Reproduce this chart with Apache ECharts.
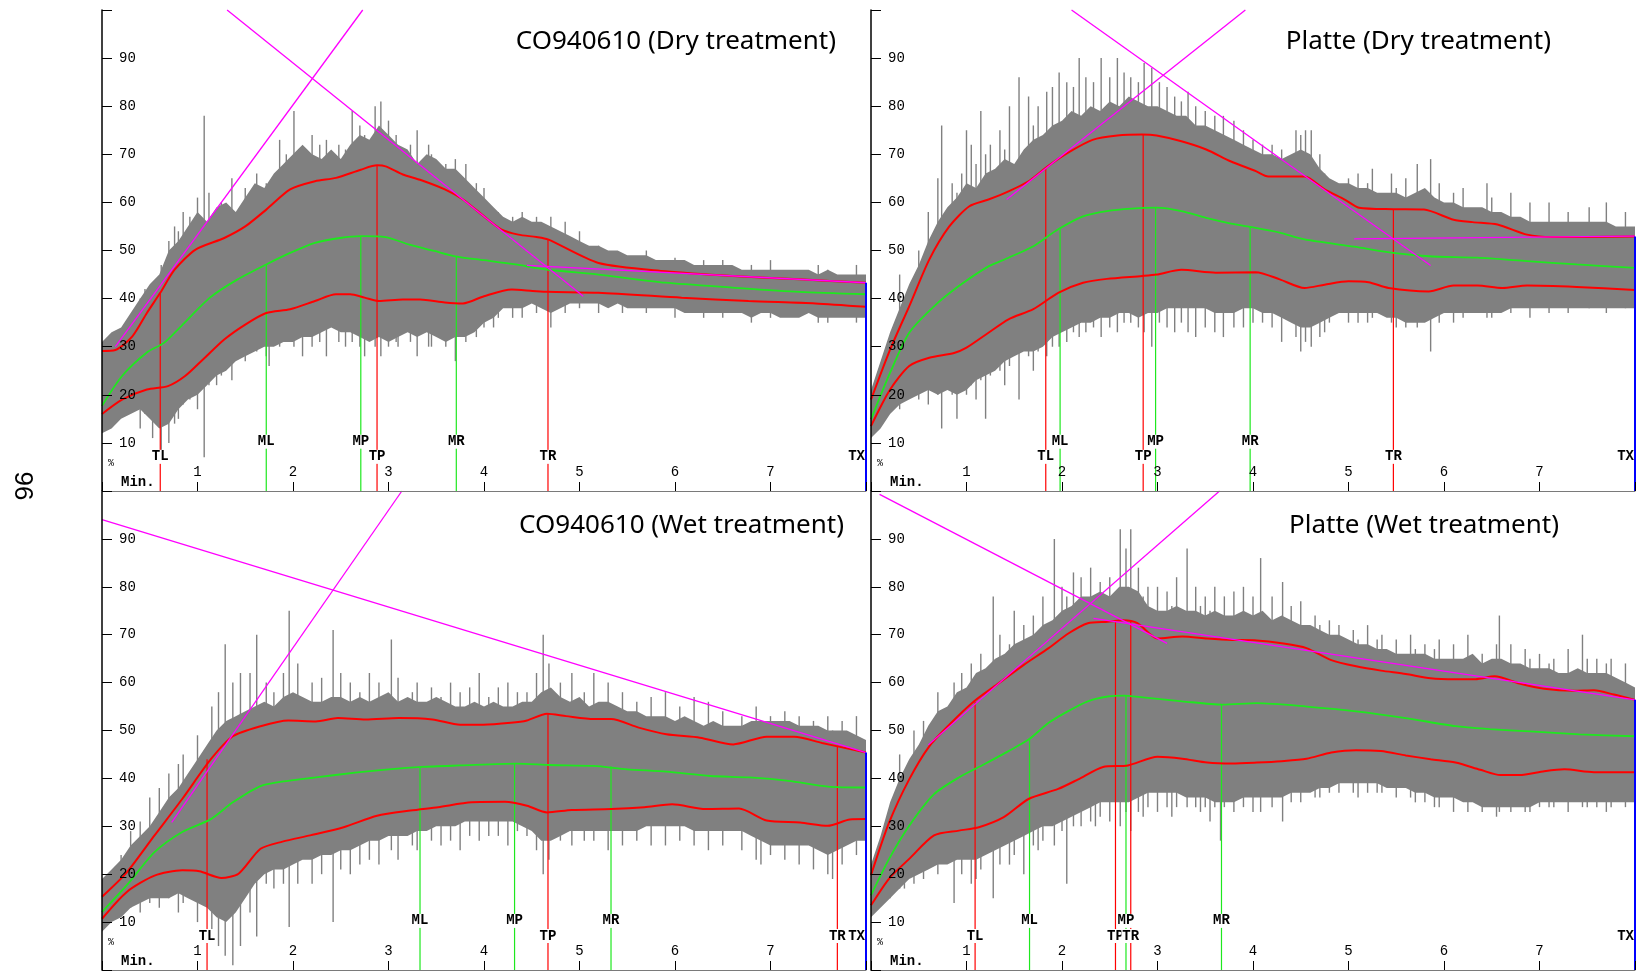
<!DOCTYPE html>
<html>
<head>
<meta charset="utf-8">
<title>Mixograph curves</title>
<script src="https://cdn.jsdelivr.net/npm/echarts@6/dist/echarts.min.js"></script>
<style>
  html, body { margin: 0; padding: 0; background: #fff; }
  #chart { width: 1638px; height: 971px; }
</style>
</head>
<body>
<div id="chart"></div>
<script>
// dense part of the signal is sampled every 0.1 min, from 0 to 8
const STEP = 0.1

// ---- CO940610 (Dry treatment) ----
const coDryHi = [31,33,34,37,40,43,45,50,52,55, 58,56,59,60,58,61,64,63,66,68, 70,72,70,69,71,69,72,74,73,76,
  74,72,71,68,70,69,67,67,65,63, 61,59,57,56,57,56,56,55,54,53, 52,51,51,50,50,49,49,49,48,48,
  48,48,47,47,47,47,47,46,46,46, 46,46,46,46,46,45,46,45,45,45, 45]
const coDryLo = [12,13,15,16,17,15,13,14,17,19, 20,22,24,25,27,28,29,30,30,31, 31,32,32,33,34,33,33,32,31,32,
  31,32,33,32,33,32,31,32,32,33, 35,36,38,38,38,39,38,37,38,39, 39,39,39,38,39,38,38,38,38,38,
  38,37,37,37,37,37,37,37,36,37, 37,36,36,36,37,36,36,36,36,36, 36]
// single excursions: [min, low tip, high tip]
const coDrySpikes = [[0.4,13,40],[0.45,16,42],[0.53,11,41],[0.62,8,47],[0.7,10,52],[0.76,14,55],[0.8,15,54],
  [0.85,18,58],[0.92,19,57],[1.0,17,61],[1.07,7,78],[1.12,22,62],[1.2,22,58],[1.25,24,60],[1.36,23,65],[1.5,27,63],
  [1.62,29,66],[1.72,28,64],[1.75,26,62],[1.86,30,73],[1.93,31,70],[2.01,30,79],[2.1,28,71],[2.2,30,74],[2.28,31,72],
  [2.35,28,73],[2.48,31,72],[2.55,30,71],[2.62,31,79],[2.7,30,76],[2.75,28,74],[2.86,30,80],[2.92,28,81],[3.0,30,77],
  [3.08,31,74],[3.1,30,70],[3.23,31,72],[3.3,28,75],[3.42,30,72],[3.45,30,70],[3.6,30,68],[3.7,27,69],[3.81,31,68],
  [3.92,32,64],[4.0,34,63],[4.1,34,58],[4.15,36,58],[4.3,36,57],[4.4,36,58],[4.55,37,57],[4.7,34,57],[4.85,37,56],
  [5.0,38,54],[5.2,37,51],[5.45,37,49],[5.7,37,50],[6.0,36,48.5],[6.3,36,48],[6.5,36,48],[6.8,35,47],[7.0,36,48],
  [7.5,35,47],[7.6,35,46],[7.9,35,47]]
const coDryUpper = [[0,29.1],[0.14,29.3],[0.32,32.2],[0.47,37],[0.61,41.2],[0.76,46],[0.98,50.2],[1.28,52.6],[1.5,55],
  [1.72,58.5],[1.97,62.7],[2.23,64.4],[2.45,65.1],[2.71,66.8],[2.88,67.7],[2.97,67.5],[3.15,65.8],[3.33,64.7],
  [3.59,62.7],[3.78,60.6],[4.0,57.1],[4.18,54.4],[4.36,53.3],[4.55,52.8],[4.67,52.3],[5.2,47.4],[5.9,45.7],
  [6.6,44.7],[7.3,44],[8,43.3]]
const coDryMid = [[0,17.7],[0.21,23.9],[0.47,28.8],[0.65,30.8],[0.83,34.3],[1.13,40.2],[1.42,44],[1.72,47.1],
  [1.97,49.5],[2.23,51.6],[2.49,52.6],[2.71,53],[2.97,52.8],[3.22,51.2],[3.48,49.9],[3.7,48.8],[4.0,48],
  [4.33,47.1],[4.67,46],[5.2,45],[5.9,43.3],[6.6,42.3],[7.3,41.4],[8,40.9]]
const coDryLower = [[0,16],[0.21,19],[0.47,21.1],[0.69,21.8],[0.87,23.9],[1.06,27.4],[1.28,31.5],[1.5,34.6],
  [1.72,37],[1.97,37.8],[2.23,39.5],[2.45,40.9],[2.6,40.9],[2.75,40.2],[2.9,39.5],[3.15,39.8],[3.33,39.8],
  [3.59,39.2],[3.78,39],[4.0,40.5],[4.29,41.9],[4.51,41.6],[4.67,41.4],[5.2,41.2],[6.07,40.2],[6.77,39.5],
  [7.47,39],[8,38.3]]
const coDryMarks = [['TL',0.61,41.2],['ML',1.72,47.1],['MP',2.71,53],['TP',2.88,67.7],['MR',3.71,48.7],['TR',4.67,52.3],['TX',8,0]]
const coDryTangents = [[0.14,30,2.73,100],[1.31,100,5.04,40.5],[4.45,46.9,8,43.3]]
const coDryEnd = 43.3

// ---- Platte (Dry treatment) ----
const plDryHi = [21,27,33,38,43,47,52,56,59,61, 64,63,66,67,69,68,71,73,74,76, 77,79,78,80,79,81,80,82,81,80,
  80,79,78,78,76,76,75,74,73,72, 71,70,70,69,70,71,70,67,65,64, 64,63,63,62,62,62,61,62,63,61,
  60,60,59,59,59,58,58,57,57,56, 56,56,56,56,56,56,56,56,55,55, 55]
const plDryLo = [11,13,16,18,19,20,21,20,21,20, 21,23,24,25,27,28,29,29,30,32, 33,34,35,35,36,36,37,37,36,37,
  37,38,38,38,38,38,37,37,37,38, 38,37,37,36,35,34,34,35,36,37, 37,37,37,37,36,36,35,35,35,36,
  37,37,37,37,37,37,37,38,38,38, 38,38,38,38,38,38,38,38,38,38, 38]
const plDrySpikes = [[0.3,17,45],[0.5,19,50],[0.6,18,58],[0.7,20,65],[0.74,13,76],[0.85,20,64],[0.9,15,62],
  [0.95,21,66],[1.0,20,75],[1.05,22,72],[1.1,19,68],[1.15,23,79],[1.2,15,70],[1.25,24,72],[1.35,25,75],[1.4,22,71],
  [1.45,26,80],[1.55,19,86],[1.65,28,82],[1.7,25,76],[1.75,29,80],[1.84,28,83],[1.9,30,84],[1.97,30,87],[2.05,31,85],
  [2.12,33,84],[2.18,32,90],[2.25,33,86],[2.33,34,85],[2.41,32,90],[2.5,34,86],[2.58,33,90],[2.65,35,87],[2.72,35,86],
  [2.8,34,85],[2.86,33,89],[2.94,30,88],[3.02,35,85],[3.1,34,84],[3.18,33,82],[3.25,35,81],[3.32,33,83],[3.4,32,80],
  [3.5,34,79],[3.6,33,78],[3.69,32,78],[3.8,34,77],[3.9,34,75],[4.0,35,73],[4.1,35,72],[4.2,34,72],[4.3,31,71],
  [4.45,32,75],[4.5,29,74],[4.55,31,75],[4.61,30,75],[4.7,32,70],[4.75,33,66],[4.8,35,64],[5.0,35,65],[5.1,35,66],
  [5.2,35,64],[5.25,36,67],[5.45,35,66],[5.5,34,63],[5.6,34,65],[5.72,34,68],[5.86,29,69],[5.95,35,64],[6.1,35,62],
  [6.2,36,63],[6.45,36,64],[6.5,36,61],[6.7,37,62],[6.9,36,60],[7.1,37,60],[7.3,37,58],[7.52,38,59],[7.7,37,60],[7.9,38,58]]
const plDryUpper = [[0,19],[0.2,29.4],[0.4,38.4],[0.61,48.1],[0.82,55],[1.03,59.2],[1.23,60.6],[1.44,62.3],
  [1.65,64.4],[1.85,67.5],[2.06,70.3],[2.32,73],[2.58,73.9],[2.84,74.1],[2.99,73.9],[3.25,72.7],[3.51,71],
  [3.77,68.5],[4.03,66.5],[4.16,65.4],[4.54,65.4],[4.75,62.7],[4.96,60.6],[5.11,58.9],[5.47,58.6],[5.79,58.5],
  [6.1,56.4],[6.3,55.9],[6.56,55.4],[6.87,53.3],[7.13,52.8],[7.49,52.8],[8,52.9]]
const plDryMid = [[0,14.9],[0.2,24.6],[0.4,32.9],[0.66,38.4],[0.92,42.6],[1.23,46.7],[1.44,48.5],[1.7,50.9],
  [1.96,54.4],[2.22,57.1],[2.47,58.2],[2.73,58.7],[2.99,58.9],[3.25,58.2],[3.51,56.8],[3.77,55.6],[3.97,54.9],
  [4.28,53.7],[4.54,52.3],[5.06,50.8],[5.47,49.5],[5.84,48.8],[6.35,48.5],[6.87,47.8],[7.39,47.1],[8,46.4]]
const plDryLower = [[0,13.5],[0.2,21.1],[0.4,26],[0.61,27.7],[0.87,28.7],[1.0,29.8],[1.23,32.9],[1.44,35.7],
  [1.7,37.8],[1.96,41.2],[2.22,43.3],[2.47,44.1],[2.84,44.7],[2.99,45],[3.25,46],[3.61,45.4],[4.03,45.5],
  [4.28,44],[4.54,42.2],[4.75,42.9],[5.0,43.6],[5.21,43.4],[5.42,42.2],[5.84,41.5],[6.1,42.7],[6.35,42.7],
  [6.61,42.2],[6.87,42.7],[7.39,42.4],[8,41.8]]
const plDryMarks = [['TL',1.83,67],['ML',1.98,54.4],['TP',2.85,74.1],['MP',2.98,58.9],['MR',3.97,54.9],['TR',5.47,58.6],['TX',8,0]]
const plDryTangents = [[1.42,60.6,3.92,100],[2.1,100,5.86,46.9],[5.06,52.4,8,53]]
const plDryEnd = 52.9

// ---- CO940610 (Wet treatment) ----
const coWetHi = [19,21,23,26,28,30,33,36,38,41, 44,47,50,52,53,54,55,56,55,57, 58,57,56,56,57,57,56,57,56,57,
  58,56,57,56,56,57,56,55,55,56, 55,56,55,55,56,56,58,59,57,56, 57,55,56,56,55,54,54,53,53,53,
  52,53,52,51,52,51,51,51,52,52, 52,52,52,51,51,51,50,50,50,49, 48]
const coWetLo = [8,10,11,13,14,15,15,15,16,15, 14,13,11,10,12,15,18,20,21,21, 22,23,23,24,24,25,25,26,27,27,
  28,28,28,29,29,30,30,30,31,31, 31,31,31,31,30,29,27,27,28,29, 29,29,29,29,29,29,29,30,30,30,
  30,30,29,29,29,29,29,29,28,27, 26,26,26,26,26,25,24,25,26,27, 27]
const coWetSpikes = [[0.2,12,24],[0.3,13,29],[0.4,12,31],[0.5,14,36],[0.6,13,38],[0.7,15,41],[0.8,12,43],[0.85,14,45],
  [1.0,10,49],[1.15,8,55],[1.22,5,58],[1.29,3,68],[1.37,1,60],[1.45,5,62],[1.55,12,62],[1.62,7,70],[1.72,18,60],
  [1.8,17,58],[1.9,18,62],[1.96,9,75],[2.05,18,64],[2.2,18,60],[2.3,20,61],[2.42,10,71],[2.5,21,62],[2.6,20,60],
  [2.7,22,58],[2.8,23,62],[2.9,22,60],[3.03,25,69],[3.1,23,61],[3.25,26,58],[3.3,25,60],[3.45,27,59],[3.55,26,57],
  [3.65,27,60],[3.75,25,58],[3.85,28,59],[3.95,27,62],[4.05,28,57],[4.15,28,59],[4.25,26,60],[4.35,29,58],[4.45,28,58],
  [4.55,25,62],[4.62,20,70],[4.68,23,64],[4.8,27,60],[4.92,26,62],[5.05,27,58],[5.15,27,62],[5.3,25,60],[5.45,26,58],
  [5.6,27,56],[5.75,26,57],[5.9,26,58],[6.05,27,55],[6.2,26,57],[6.35,25,56],[6.5,26,54],[6.7,25,53],[6.85,23,55],
  [6.9,22,52],[7.0,24,53],[7.15,23,54],[7.3,22,53],[7.45,21,52],[7.6,20,53],[7.65,19,50],[7.75,22,52],[7.9,24,53]]
const coWetUpper = [[0,15.3],[0.26,20.4],[0.55,28.1],[0.84,35.7],[1.14,44],[1.37,48.8],[1.66,50.9],[1.95,52.1],
  [2.24,51.9],[2.47,52.6],[2.76,52.3],[3.11,52.6],[3.46,52.3],[3.75,51.2],[3.99,51.2],[4.28,51.6],[4.45,52.1],
  [4.66,53.5],[4.86,53],[5.15,52.4],[5.33,52.4],[5.62,50.6],[5.91,49.2],[6.26,48.5],[6.61,47.1],[6.96,48.7],
  [7.25,48.7],[7.54,47.4],[8,45.4]]
const coWetMid = [[0,12.1],[0.26,17.7],[0.55,24.6],[0.84,28.8],[1.14,31.5],[1.37,35],[1.66,38.4],[1.95,39.5],
  [2.24,40.2],[2.65,41.2],[3.0,41.9],[3.35,42.4],[3.75,42.7],[4.34,43.1],[4.69,42.8],[5.15,42.6],[5.5,41.9],
  [5.91,41.4],[6.37,40.5],[6.78,40.2],[7.19,39.5],[7.6,38.3],[8,38.1]]
const coWetLower = [[0,10.7],[0.26,16.3],[0.55,19.7],[0.84,20.8],[1.02,20.6],[1.25,19.2],[1.43,20.1],[1.66,25.3],
  [1.89,26.8],[2.18,28.1],[2.53,29.8],[2.88,32.2],[3.23,33.3],[3.52,34],[3.87,35],[4.22,35.1],[4.45,34.3],
  [4.66,32.9],[4.92,33.4],[5.33,33.6],[5.68,34],[5.97,34.6],[6.32,33.6],[6.67,33.7],[6.96,31.2],[7.31,30.8],
  [7.6,30.1],[7.83,31.4],[8,31.5]]
const coWetMarks = [['TL',1.1,44],['ML',3.33,42.4],['MP',4.32,43.1],['TP',4.67,53.5],['MR',5.33,42.5],['TR',7.7,46.8],['TX',8,0]]
const coWetTangents = [[0.73,30.8,3.14,100],[0,94,8,45.4]]
const coWetEnd = 45.4

// ---- Platte (Wet treatment) ----
const plWetHi = [22,28,35,40,44,47,51,54,55,58, 59,62,63,65,66,68,69,70,72,73, 75,76,78,78,79,78,80,80,79,76,
  75,75,76,75,75,74,75,74,74,75, 74,75,73,74,73,72,72,71,70,70, 69,68,68,67,67,66,66,66,66,65,
  65,65,65,66,64,65,65,64,64,63, 63,63,62,62,63,62,62,62,61,60, 59]
const plWetLo = [11,13,15,17,19,20,21,22,22,23, 23,23,24,25,26,27,28,29,30,30, 31,32,33,34,35,35,35,35,36,37,
  37,37,37,36,36,36,35,35,35,36, 36,36,36,36,37,37,37,38,38,39, 39,39,39,39,38,38,38,37,37,36,
  36,36,35,35,34,34,34,34,34,34, 35,35,35,35,35,35,35,35,35,35, 35]
const plWetSpikes = [[0.2,15,30],[0.3,17,45],[0.35,17,40],[0.45,18,50],[0.55,19,52],[0.7,20,58],[0.87,14,60],
  [0.95,20,62],[1.05,18,64],[1.1,19,60],[1.15,21,66],[1.28,15,78],[1.35,22,70],[1.45,22,68],[1.5,24,75],[1.6,20,72],
  [1.7,26,74],[1.75,25,70],[1.8,27,78],[1.92,26,90],[2.0,29,80],[2.05,18,78],[2.12,30,83],[2.2,30,82],[2.3,31,84],
  [2.35,30,78],[2.4,32,81],[2.5,31,82],[2.61,30,92],[2.67,33,88],[2.72,29,92],[2.8,33,84],[2.85,32,78],[2.9,34,80],
  [3.0,33,80],[3.1,34,79],[3.15,32,76],[3.2,34,82],[3.31,34,88],[3.4,34,80],[3.45,33,76],[3.5,34,78],[3.55,31,75],
  [3.6,34,80],[3.66,27,72],[3.7,34,78],[3.8,33,79],[3.9,34,80],[4.0,33,78],[4.08,33,86],[4.2,34,78],[4.31,31,81],
  [4.4,35,76],[4.5,35,77],[4.65,36,74],[4.7,36,72],[4.8,37,73],[4.9,37,72],[5.05,37,71],[5.1,36,69],[5.2,37,72],
  [5.3,37,69],[5.35,37,70],[5.5,36,69],[5.65,36,70],[5.7,35,67],[5.8,35,68],[5.9,34,67],[5.95,34,69],[6.1,33,68],
  [6.25,33,70],[6.4,33,66],[6.55,32,68],[6.58,33,74],[6.7,33,68],[6.85,33,67],[6.9,33,65],[7.0,34,66],[7.1,34,64],
  [7.15,34,65],[7.3,33,67],[7.45,34,70],[7.5,34,65],[7.6,34,65],[7.7,33,64],[7.75,34,65],[7.9,34,64]]
const plWetUpper = [[0,19.8],[0.19,30.8],[0.4,39.8],[0.61,46.7],[0.82,51.2],[1.08,56.1],[1.34,59.9],[1.6,63.7],
  [1.86,67.2],[2.07,70.3],[2.27,72.4],[2.48,72.7],[2.64,73],[2.79,72.4],[3.0,69.2],[3.26,69.6],[3.52,69.2],
  [3.78,68.9],[4.04,68.8],[4.3,68.2],[4.56,67.2],[4.82,64.7],[5.08,63.4],[5.34,62.5],[5.6,61.8],[5.86,60.9],
  [6.12,60.7],[6.33,60.7],[6.53,61.3],[6.79,59.8],[7.05,58.7],[7.36,58.3],[7.57,58.4],[7.78,57.5],[8,56.4]]
const plWetMid = [[0,15.6],[0.19,23.2],[0.4,30.1],[0.66,36.7],[0.92,40.2],[1.18,42.9],[1.44,45.7],[1.65,48.1],
  [1.86,51.6],[2.06,54],[2.27,56.1],[2.48,57.1],[2.66,57.3],[2.9,56.8],[3.26,56.1],[3.68,55.4],[4.04,55.7],
  [4.56,55],[5.08,54],[5.6,52.6],[6.12,50.9],[6.48,50.3],[6.9,49.8],[7.42,49.2],[8,48.8]]
const plWetLower = [[0,13.5],[0.19,19.1],[0.4,23.2],[0.66,28.1],[0.92,29.1],[1.13,29.8],[1.39,31.9],[1.65,35.7],
  [1.96,37.8],[2.17,39.8],[2.43,42.4],[2.69,42.7],[3.0,44.5],[3.26,44.1],[3.52,43.3],[3.78,43.1],[4.04,43.3],
  [4.3,43.6],[4.56,44.1],[4.82,45.4],[5.08,45.9],[5.34,45.7],[5.6,44.8],[5.86,44],[6.12,43.3],[6.38,41.8],
  [6.59,40.7],[6.79,40.7],[7.05,41.5],[7.26,41.9],[7.57,41.3],[8,41.3]]
const plWetMarks = [['TL',1.09,56],['ML',1.66,48.2],['TP',2.56,72.9],['MP',2.67,57.3],['TR',2.72,72.7],['MR',3.67,55.4],['TX',8,0]]
const plWetTangents = [[0.09,99.3,3.1,68.2],[0.6,47,3.65,100],[2.33,73.4,8,56.4]]
const plWetEnd = 56.4

const panels = [
  {title:'CO940610 (Dry treatment)', hi:coDryHi, lo:coDryLo, spikes:coDrySpikes, upper:coDryUpper, mid:coDryMid,
    lower:coDryLower, marks:coDryMarks, tangents:coDryTangents, end:coDryEnd,
    grid:{left:102, top:10, width:764, height:481}, titleX:836, titleY:42},
  {title:'Platte (Dry treatment)', hi:plDryHi, lo:plDryLo, spikes:plDrySpikes, upper:plDryUpper, mid:plDryMid,
    lower:plDryLower, marks:plDryMarks, tangents:plDryTangents, end:plDryEnd,
    grid:{left:871, top:10, width:766, height:481}, titleX:1551, titleY:42},
  {title:'CO940610 (Wet treatment)', hi:coWetHi, lo:coWetLo, spikes:coWetSpikes, upper:coWetUpper, mid:coWetMid,
    lower:coWetLower, marks:coWetMarks, tangents:coWetTangents, end:coWetEnd,
    grid:{left:102, top:491, width:764, height:479}, titleX:844, titleY:526},
  {title:'Platte (Wet treatment)', hi:plWetHi, lo:plWetLo, spikes:plWetSpikes, upper:plWetUpper, mid:plWetMid,
    lower:plWetLower, marks:plWetMarks, tangents:plWetTangents, end:plWetEnd,
    grid:{left:871, top:491, width:766, height:479}, titleX:1559, titleY:526}
]

const RED = '#ff0000', GREEN = '#1ee81e', MAGENTA = '#ff00ff', GRAY = '#808080', BLUE = '#0000ff'
const MONO = '"Liberation Mono", "DejaVu Sans Mono", monospace'

const chart = echarts.init(document.getElementById('chart'))

const grids = [], xAxes = [], yAxes = [], series = [], graphics = []

panels.forEach((p, i) => {
  grids.push(Object.assign({containLabel:false}, p.grid))
  xAxes.push({
    gridIndex:i, type:'value', min:0, max:8, interval:1, z:6,
    axisLine:{show:true, onZero:false, lineStyle:{color:'#7a7a7a', width:1}},
    axisTick:{show:true, inside:true, length:9, lineStyle:{color:'#000'}},
    axisLabel:{inside:true, margin:12, fontFamily:MONO, fontSize:14, color:'#000',
      formatter: v => (v > 0 && v < 8) ? String(v) : ''},
    splitLine:{show:false}
  })
  yAxes.push({
    gridIndex:i, type:'value', min:0, max:100, interval:10, z:6,
    axisLine:{show:true, onZero:false, lineStyle:{color:'#000', width:1.5}},
    axisTick:{show:true, inside:true, length:10, lineStyle:{color:'#000'}},
    axisLabel:{inside:true, margin:17, fontFamily:MONO, fontSize:14, color:'#000',
      formatter: v => (v > 0 && v < 100) ? String(v) : ''},
    splitLine:{show:false}
  })

  // dense gray signal
  series.push({
    type:'custom', xAxisIndex:i, yAxisIndex:i, silent:true, z:1,
    data:[[0, 0]],
    renderItem: (params, api) => {
      const pts = []
      for (let k = 0; k < p.hi.length; k++) pts.push(api.coord([k * STEP, p.hi[k]]))
      for (let k = p.lo.length - 1; k >= 0; k--) pts.push(api.coord([k * STEP, p.lo[k]]))
      return {type:'polygon', shape:{points:pts}, style:{fill:GRAY}}
    }
  })
  // spikes
  series.push({
    type:'custom', xAxisIndex:i, yAxisIndex:i, silent:true, z:1,
    data:p.spikes,
    renderItem: (params, api) => {
      const a = api.coord([api.value(0), api.value(1)])
      const b = api.coord([api.value(0), api.value(2)])
      return {type:'line', shape:{x1:a[0], y1:a[1], x2:b[0], y2:b[1]}, style:{stroke:GRAY, lineWidth:1.4}}
    }
  })
  // marker lines + labels
  series.push({
    type:'custom', xAxisIndex:i, yAxisIndex:i, silent:true, z:3,
    data:p.marks.map(m => [m[1], m[2]]),
    renderItem: (params, api) => {
      const m = p.marks[params.dataIndex]
      const name = m[0]
      const isT = name[0] === 'T'
      const children = []
      if (m[2] > 0) {
        const a = api.coord([m[1], 0]), b = api.coord([m[1], m[2]])
        children.push({type:'line', shape:{x1:a[0], y1:a[1], x2:b[0], y2:b[1]},
          style:{stroke:isT ? RED : GREEN, lineWidth:1.2}})
      }
      const t = api.coord([m[1], isT ? 7.1 : 10.25])
      children.push({type:'text', x:t[0], y:t[1], z2:5,
        style:{text:name, align:name === 'TX' ? 'right' : 'center', verticalAlign:'middle',
          font:'bold 14px ' + MONO, fill:'#000', backgroundColor:'#fff', padding:[0, 1]}})
      return {type:'group', children:children}
    }
  })
  // envelopes and median
  ;[[p.upper, RED, 2], [p.lower, RED, 2], [p.mid, GREEN, 1.8]].forEach(c => {
    series.push({
      type:'line', xAxisIndex:i, yAxisIndex:i, data:c[0], showSymbol:false, smooth:0.25,
      silent:true, z:4, lineStyle:{color:c[1], width:c[2]}
    })
  })
  // tangents
  series.push({
    type:'custom', xAxisIndex:i, yAxisIndex:i, silent:true, z:5,
    data:p.tangents,
    renderItem: (params, api) => {
      const a = api.coord([api.value(0), api.value(1)])
      const b = api.coord([api.value(2), api.value(3)])
      return {type:'line', shape:{x1:a[0], y1:a[1], x2:b[0], y2:b[1]}, style:{stroke:MAGENTA, lineWidth:1.3}}
    }
  })
  // end of test
  series.push({
    type:'line', xAxisIndex:i, yAxisIndex:i, data:[[8, 0], [8, p.end]], showSymbol:false,
    silent:true, z:5, clip:false, lineStyle:{color:BLUE, width:2}
  })

  const g = p.grid
  const base = g.top + g.height
  graphics.push({type:'text', x:p.titleX, y:p.titleY, z:10,
    style:{text:p.title, align:'right', verticalAlign:'middle', font:'26px "Noto Sans"', fill:'#000'}})
  graphics.push({type:'text', x:g.left + 19, y:base - 9, z:10,
    style:{text:'Min.', align:'left', verticalAlign:'middle', font:'bold 14px ' + MONO, fill:'#000'}})
  graphics.push({type:'text', x:g.left + 9, y:base - 28, z:10,
    style:{text:'%', align:'center', verticalAlign:'middle', font:'10px ' + MONO, fill:'#000'}})
})

// page number
graphics.push({type:'text', x:22, y:486, rotation:-Math.PI / 2, z:10,
  style:{text:'96', align:'center', verticalAlign:'middle', font:'26px "Liberation Sans"', fill:'#000'}})

chart.setOption({
  animation:false,
  backgroundColor:'#fff',
  grid:grids,
  xAxis:xAxes,
  yAxis:yAxes,
  series:series,
  graphic:graphics
})
</script>
</body>
</html>
